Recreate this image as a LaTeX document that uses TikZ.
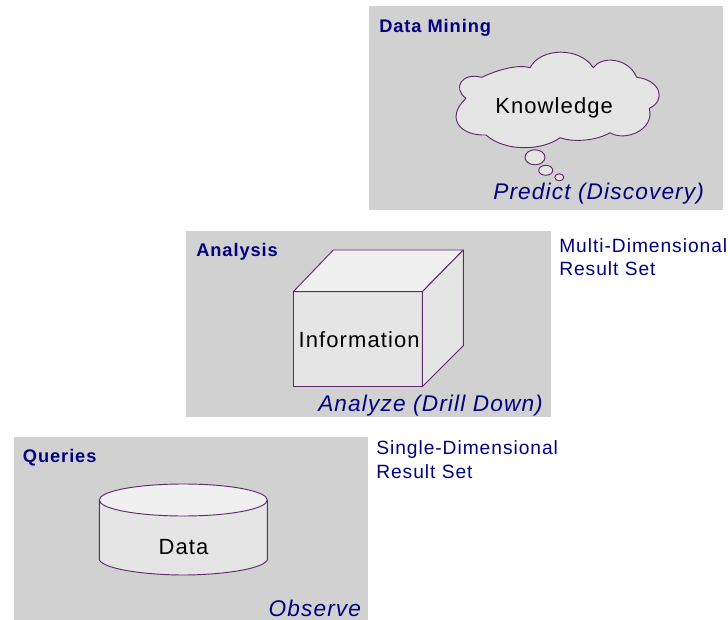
\documentclass[tikz,border=0pt]{standalone}
\usepackage{fontspec}
\setmainfont{Liberation Sans}
\newfontfamily\spacedfont[LetterSpace=5]{Liberation Sans}
\usepackage{tikz}

\definecolor{panelgrey}{HTML}{D1D1D1}
\definecolor{facegrey}{HTML}{E5E5E5}
\definecolor{topgrey}{HTML}{F0F0F0}
\definecolor{shapeline}{HTML}{5E2A6A}
\definecolor{labelblue}{HTML}{000080}

\tikzset{
    panel/.style={fill=panelgrey, draw=none},
    shape3d/.style={draw=shapeline, fill=facegrey, line width=0.7pt, line join=round},
    shapetop/.style={shape3d, fill=topgrey},
    title/.style={anchor=base west, inner sep=0pt, text=labelblue, font=\spacedfont\bfseries\fontsize{13.7}{16}\selectfont},
    inside/.style={anchor=base west, inner sep=0pt, text=black, font=\spacedfont\fontsize{16.5}{20}\selectfont},
    action/.style={anchor=base west, inner sep=0pt, text=labelblue, font=\spacedfont\itshape\fontsize{17}{20}\selectfont},
    result/.style={anchor=base west, inner sep=0pt, text=labelblue, align=left, font=\spacedfont\fontsize{14.4}{17.4}\selectfont}
}

\begin{document}
\begin{tikzpicture}[x=0.75pt, y=-0.75pt]
\useasboundingbox (0,0) rectangle (728,620);

% panels
\fill[panel] (369,6) rectangle (723,210);
\fill[panel] (186,231) rectangle (551,417);
\fill[panel] (13.5,437) rectangle (368,620);

% cloud
\draw[shape3d] (481.7,77.3)
    .. controls (497,70) and (518,64) .. (530,67.7)
    .. controls (541,47) and (580,47) .. (593.3,67.7)
    .. controls (601,56) and (628,57) .. (636.7,77.3)
    .. controls (660,80) and (667,100) .. (649.3,108.3)
    .. controls (655,130) and (625,142) .. (610,132.7)
    .. controls (598,140) and (575,143) .. (560,137.7)
    .. controls (542,151) and (505,152) .. (486,135)
    .. controls (460,136) and (445,118) .. (466,98.3)
    .. controls (452,88) and (462,72) .. (481.7,77.3) -- cycle;
\draw[shape3d] (535,157.3) ellipse [x radius=10, y radius=7.5];
\draw[shape3d] (545.7,170.3) ellipse [x radius=7, y radius=5];
\draw[shape3d] (559.3,177.3) ellipse [x radius=4.5, y radius=3.5];

% cube
\draw[shape3d] (293.3,291.7) rectangle (422.3,386.7);
\draw[shapetop] (293.3,291.7) -- (333.3,250) -- (463.3,250) -- (422.3,291.7) -- cycle;
\draw[shape3d] (422.3,291.7) -- (463.3,250) -- (463.3,345.7) -- (422.3,386.7) -- cycle;

% cylinder
\draw[shape3d] (99.3,500) -- (99.3,560) .. controls (105,570) and (150,575) .. (183.3,575)
    .. controls (216,575) and (262,570) .. (267.3,560) -- (267.3,500) -- cycle;
\draw[shapetop] (183.3,500) ellipse [x radius=84, y radius=16];

\node[title] (miningtitle) at (379,33) {Data Mining};
\node[inside] (knowledge) at (495,114) {Knowledge};
\node[action] (predict) at (493,200) {Predict (Discovery)};

\node[title] (analysistitle) at (196,256.7) {Analysis};
\node[inside] (information) at (298.3,347.7) {Information};
\node[action] (analyze) at (318,411.7) {Analyze (Drill Down)};
\node[result] (multi) at (559,276) {Multi-Dimensional\\Result Set};

\node[title] (queriestitle) at (22.7,462.7) {Queries};
\node[inside] (data) at (158.3,554) {Data};
\node[action] (observe) at (268.3,616) {Observe};
\node[result] (single) at (376,478) {Single-Dimensional\\Result Set};
\end{tikzpicture}
\end{document}
